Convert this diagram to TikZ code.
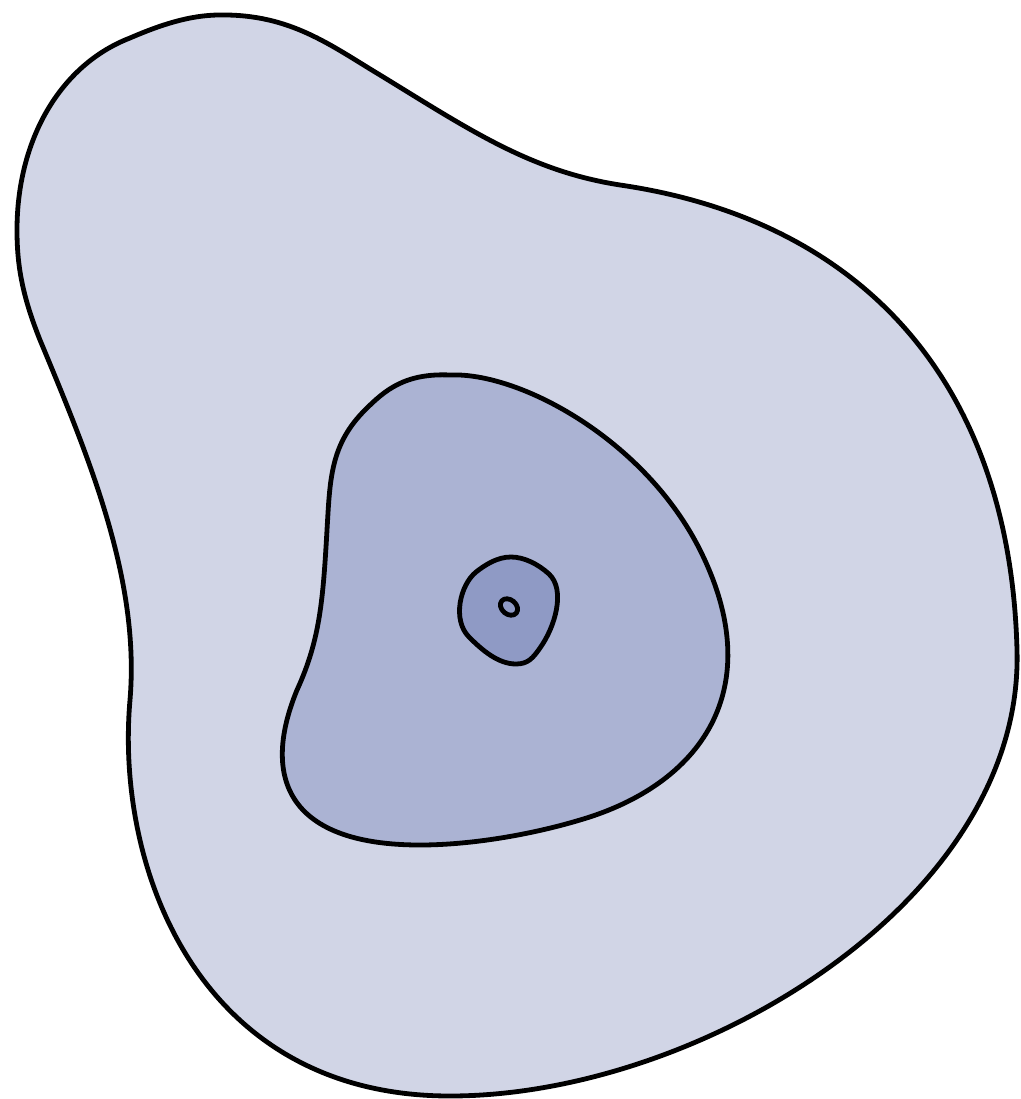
\documentclass[tikz,border=0pt]{standalone}
\begin{document}
\begin{tikzpicture}[x=1pt,y=-1pt,
  blob/.style={draw=black,line width=4.8pt,line join=round}]
\definecolor{c1}{HTML}{D1D5E6}
\definecolor{c2}{HTML}{ABB3D3}
\definecolor{c3}{HTML}{8F9AC5}
\useasboundingbox (0,0) rectangle (1020,1099);
% outer region
\draw[blob,fill=c1] (220,15) .. controls (290,14) and (330,45) .. (380,75)
  .. controls (470,130) and (530,171) .. (620,185)
  .. controls (860,220) and (1010,380) .. (1017,650)
  .. controls (1024,900) and (700,1096) .. (450,1096)
  .. controls (200,1096) and (115,870) .. (130,700)
  .. controls (140,580) and (90,460) .. (40,340)
  .. controls (22,295) and (17,265) .. (17,230)
  .. controls (17,140) and (60,65) .. (130,38)
  .. controls (160,25) and (190,15) .. (220,15) -- cycle;
% middle region
\draw[blob,fill=c2] (450,375) .. controls (405,373) and (385,390) .. (365,410)
  .. controls (330,445) and (330,480) .. (327,530)
  .. controls (323,600) and (320,640) .. (297,690)
  .. controls (260,780) and (290,845) .. (420,845)
  .. controls (470,845) and (530,835) .. (580,820)
  .. controls (700,785) and (770,690) .. (700,550)
  .. controls (645,440) and (520,372) .. (450,375) -- cycle;
% inner region
\draw[blob,fill=c3] (511,557) .. controls (497,557) and (485,565) .. (476,572)
  .. controls (460,585) and (452,620) .. (469,637)
  .. controls (482,650) and (498,664) .. (516,664)
  .. controls (528,664) and (533,658) .. (540,648)
  .. controls (555,627) and (566,590) .. (549,574)
  .. controls (538,564) and (524,557) .. (511,557) -- cycle;
% centre spot
\draw[blob,fill=c3,rotate around={-40:(509,607)}] (509,607) ellipse[x radius=9.5,y radius=7.2];
\end{tikzpicture}
\end{document}
